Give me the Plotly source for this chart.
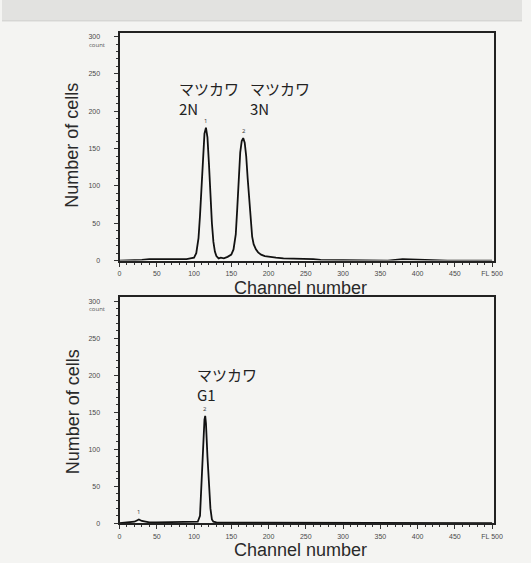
import plotly.graph_objects as go
from plotly.subplots import make_subplots

# ---- data ----
top_channel = [0, 10, 20, 30, 40, 50, 60, 70, 80, 90, 95, 100, 103, 106, 108, 110, 112, 114, 116, 118,
               120, 122, 124, 126, 128, 130, 133, 136, 140, 145, 150, 153, 156, 158, 160, 162, 164, 166,
               168, 170, 172, 174, 176, 178, 180, 183, 186, 190, 195, 200, 210, 220, 230, 240, 250, 260,
               270, 280, 290, 300, 320, 340, 360, 380, 400, 420, 440, 460, 480, 500]
top_count = [0, 0, 1, 1, 2, 2, 2, 1, 2, 2, 3, 4, 10, 30, 60, 100, 140, 170, 178, 165,
             130, 85, 50, 25, 12, 6, 3, 4, 3, 5, 8, 15, 35, 70, 110, 145, 160, 164,
             158, 140, 110, 80, 50, 32, 22, 15, 11, 8, 6, 5, 4, 3, 3, 2, 2, 2,
             1, 1, 1, 1, 1, 1, 0, 2, 1, 0, 0, 0, 0, 0]

bot_channel = [0, 10, 20, 24, 26, 28, 30, 35, 40, 50, 60, 70, 80, 90, 100, 105, 108, 110, 112, 114,
               115, 116, 118, 120, 122, 124, 126, 130, 140, 160, 200, 250, 300, 350, 400, 450, 500]
bot_count = [0, 1, 2, 4, 5, 4, 3, 2, 1, 1, 1, 1, 1, 1, 1, 2, 10, 50, 110, 140,
             145, 135, 90, 50, 20, 5, 2, 1, 1, 1, 1, 1, 0, 0, 0, 0, 0]

x_ticks = [0, 50, 100, 150, 200, 250, 300, 350, 400, 450, 500]
x_ticktext = ["0", "50", "100", "150", "200", "250", "300", "350", "400", "450", "FL 500"]
y_ticks = [0, 50, 100, 150, 200, 250, 300]

top_labels = [("マツカワ<br>2N", 77), ("マツカワ<br>3N", 172)]
top_peaks = [("1", 116, 178), ("2", 167, 164)]
bot_labels = [("マツカワ<br>G1", 101)]
bot_peaks = [("1", 26, 5), ("2", 115, 145)]

W, H = 531, 563
BG = "#f4f4f2"

fig = make_subplots(rows=2, cols=1)
fig.add_trace(go.Scatter(x=top_channel, y=top_count, mode="lines",
                         line=dict(color="#111", width=1.8), showlegend=False), row=1, col=1)
fig.add_trace(go.Scatter(x=bot_channel, y=bot_count, mode="lines",
                         line=dict(color="#111", width=1.8), showlegend=False), row=2, col=1)

def px2x(p):
    return p / W

def px2y(p):
    return 1 - p / H

xd = [px2x(120), px2x(502)]
axis_common = dict(showgrid=False, zeroline=False, showline=True, linecolor="#222", linewidth=2,
                   mirror=True, ticks="outside", ticklen=4, tickcolor="#333",
                   tickfont=dict(size=7, color="#4a4a4a", family="Liberation Sans"))
for i, (top, bot) in enumerate([(33, 262), (299, 526)]):
    n = "" if i == 0 else "2"
    fig.layout["xaxis" + n].update(domain=xd, range=[0, 502], tickvals=x_ticks, ticktext=x_ticktext,
                                   minor=dict(dtick=10, ticklen=2, ticks="outside", tickcolor="#333"),
                                   anchor="y" + n, ticklabelstandoff=1, **axis_common)
    fig.layout["yaxis" + n].update(domain=[px2y(bot), px2y(top)], range=[0, 305], tickvals=y_ticks,
                                   minor=dict(dtick=10, ticklen=2, ticks="outside", tickcolor="#333"),
                                   anchor="x" + n, ticklabelstandoff=12, **axis_common)

ann = []
jp = dict(family="Noto Sans CJK JP", size=15, color="#222")
for txt, ch in top_labels:
    ann.append(dict(x=ch, y=px2y(76), xref="x", yref="paper", text=txt, showarrow=False, xanchor="left",
                    yanchor="top", align="left", font=jp))
for txt, ch in bot_labels:
    ann.append(dict(x=ch, y=px2y(364), xref="x2", yref="paper", text=txt, showarrow=False, xanchor="left",
                    yanchor="top", align="left", font=jp))

for txt, ch, c in top_peaks:
    ann.append(dict(x=ch, y=c, xref="x", yref="y", text=txt, showarrow=False, xanchor="center",
                    yanchor="bottom", yshift=1, font=dict(size=6, color="#333")))
for txt, ch, c in bot_peaks:
    ann.append(dict(x=ch, y=c, xref="x2", yref="y2", text=txt, showarrow=False, xanchor="center",
                    yanchor="bottom", yshift=1, font=dict(size=6, color="#333")))

title_font = dict(family="Liberation Sans", size=18, color="#2a2a2a")
for yy in (146, 414):
    ann.append(dict(x=px2x(72), y=px2y(yy), xref="paper", yref="paper", text="Number of cells",
                    textangle=-90, showarrow=False, xanchor="center", yanchor="middle", font=title_font))
for yy in (290, 553):
    ann.append(dict(x=px2x(305), y=px2y(yy), xref="paper", yref="paper", text="Channel number",
                    showarrow=False, xanchor="center", yanchor="middle", font=title_font))
for yy in (45, 311):
    ann.append(dict(x=px2x(107), y=px2y(yy), xref="paper", yref="paper", text="count",
                    showarrow=False, xanchor="right", yanchor="middle", font=dict(size=6, color="#555")))

shapes = [dict(type="rect", xref="paper", yref="paper", x0=0, x1=1, y0=px2y(21), y1=1,
               fillcolor="#e2e2e0", line=dict(width=0), layer="below"),
          dict(type="line", xref="paper", yref="paper", x0=0, x1=1, y0=px2y(21), y1=px2y(21),
               line=dict(color="#cfcfcd", width=1))]

fig.update_layout(width=W, height=H, margin=dict(l=0, r=0, t=0, b=0),
                  paper_bgcolor=BG, plot_bgcolor=BG, annotations=ann, shapes=shapes,
                  showlegend=False)
fig.write_html("out.html")
